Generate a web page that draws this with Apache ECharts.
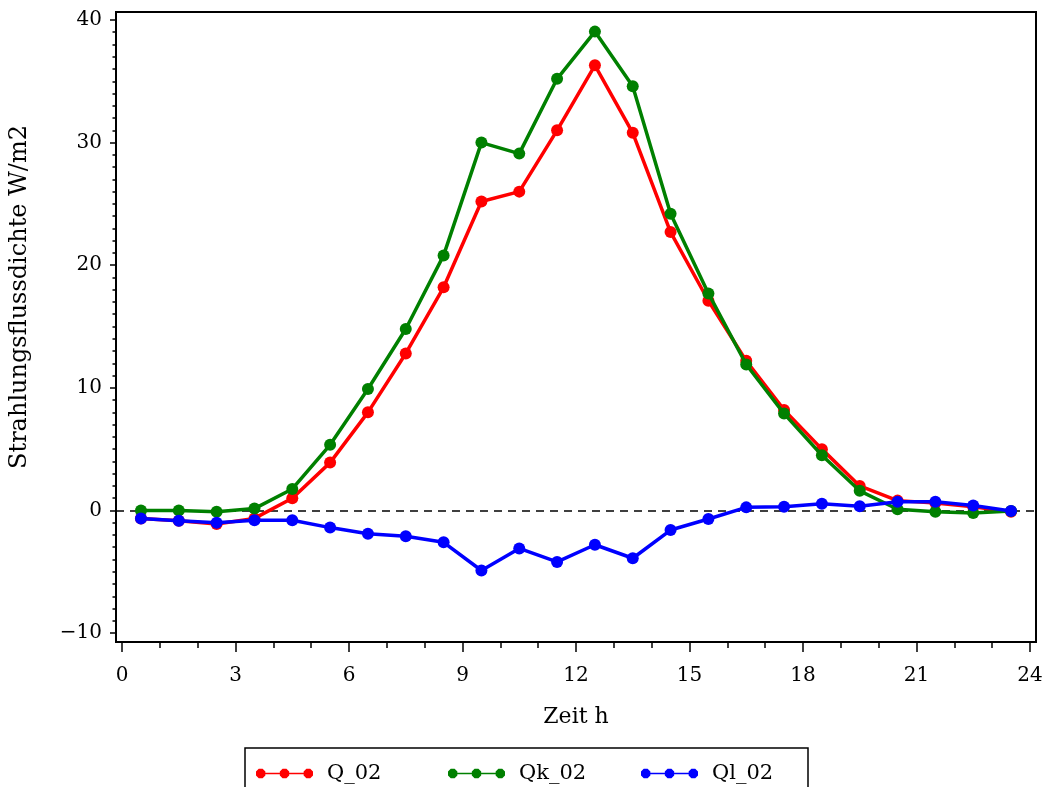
<!DOCTYPE html>
<html>
<head>
<meta charset="utf-8">
<script src="https://cdn.jsdelivr.net/npm/echarts@6/dist/echarts.min.js"></script>
<style>
html,body{margin:0;padding:0;background:#fff;}
#chart{width:1048px;height:787px;}
</style>
</head>
<body>
<div id="chart"></div>
<script>
// ---- data ----
const hours = [0.5,1.5,2.5,3.5,4.5,5.5,6.5,7.5,8.5,9.5,10.5,11.5,12.5,13.5,14.5,15.5,16.5,17.5,18.5,19.5,20.5,21.5,22.5,23.5];
const Q_02  = [-0.65,-0.85,-1.1,-0.65,1.0,3.9,8.0,12.8,18.2,25.2,26.0,31.0,36.3,30.8,22.7,17.1,12.2,8.2,5.0,2.0,0.8,0.6,0.3,-0.1];
const Qk_02 = [0.0,0.0,-0.1,0.15,1.75,5.35,9.9,14.8,20.8,30.0,29.1,35.2,39.05,34.6,24.2,17.7,11.9,7.9,4.5,1.6,0.1,-0.1,-0.2,-0.05];
const Ql_02 = [-0.65,-0.85,-1.0,-0.8,-0.8,-1.4,-1.9,-2.1,-2.6,-4.9,-3.1,-4.2,-2.8,-3.9,-1.6,-0.7,0.25,0.3,0.55,0.35,0.7,0.7,0.4,-0.05];
const seriesNames = ['Q_02','Qk_02','Ql_02'];
const xMajorTicks = [0,3,6,9,12,15,18,21,24];
const xMinorTicks = [0,1,2,3,4,5,6,7,8,9,10,11,12,13,14,15,16,17,18,19,20,21,22,23,24];
const yMajorTicks = [-10,0,10,20,30,40];
const yMinorTicks = [];
for (let v = -10; v <= 40; v++) yMinorTicks.push(v);
const xTitle = 'Zeit h';
const yTitle = 'Strahlungsflussdichte W/m2';

// ---- styling ----
const FONT = 'DejaVu Serif';
const colors = ['#ff0000', '#008000', '#0000ff'];
const legendLefts = [256, 448, 641];

function octagon(cx, cy, r) {
  let s = '';
  for (let k = 0; k < 8; k++) {
    const a = (22.5 + 45 * k) * Math.PI / 180;
    const x = (cx + r * Math.cos(a)).toFixed(2);
    const y = (cy + r * Math.sin(a)).toFixed(2);
    s += (k === 0 ? 'M' : 'L') + x + ',' + y + ' ';
  }
  return s + 'Z ';
}
const legendIcon = 'path://M5,4.2 L52,4.2 L52,5.8 L5,5.8 Z ' + octagon(5,5,5) + octagon(28.5,5,5) + octagon(52,5,5);

const xMin = -0.16, xMax = 24.16;
const yMin = -10.73, yMax = 40.65;

function pairs(arr) { return hours.map((h, i) => [h, arr[i]]); }
const seriesData = [Q_02, Qk_02, Ql_02];

const chart = echarts.init(document.getElementById('chart'), null, {renderer: 'canvas'});
const option = {
  animation: false,
  backgroundColor: '#ffffff',
  grid: {
    left: 116, right: 12, top: 12, bottom: 145,
    show: true, borderColor: '#000', borderWidth: 2, backgroundColor: 'transparent'
  },
  graphic: [{
    type: 'rect', silent: true, z: 0,
    shape: {x: 245, y: 748, width: 563, height: 60},
    style: {fill: 'none', stroke: '#000', lineWidth: 1.5}
  }],
  legend: seriesNames.map((n, i) => ({
    data: [n],
    left: legendLefts[i], top: 748,
    orient: 'horizontal',
    padding: [15, 0, 0, 0],
    itemWidth: 57, itemHeight: 10,
    icon: legendIcon,
    itemStyle: {borderWidth: 0},
    textStyle: {fontFamily: FONT, fontSize: 21, color: '#000', padding: [0, 0, 0, 9]}
  })),
  xAxis: [
    {
      type: 'value', min: xMin, max: xMax, position: 'bottom',
      name: xTitle, nameLocation: 'middle', nameGap: 64,
      nameTextStyle: {fontFamily: FONT, fontSize: 22, color: '#000'},
      axisLine: {show: false, onZero: false},
      splitLine: {show: false},
      axisTick: {show: true, inside: false, length: 10, customValues: xMajorTicks, lineStyle: {color: '#000', width: 1.5}},
      axisLabel: {show: true, margin: 24, customValues: xMajorTicks, fontFamily: FONT, fontSize: 20, color: '#000'}
    },
    {
      type: 'value', min: xMin, max: xMax, position: 'bottom',
      axisLine: {show: false, onZero: false},
      splitLine: {show: false},
      axisTick: {show: true, inside: false, length: 6, customValues: xMinorTicks, lineStyle: {color: '#000', width: 1.5}},
      axisLabel: {show: false}
    }
  ],
  yAxis: [
    {
      type: 'value', min: yMin, max: yMax, position: 'left',
      name: yTitle, nameLocation: 'middle', nameGap: 84, nameRotate: 90,
      nameTextStyle: {fontFamily: FONT, fontSize: 24, color: '#000', padding: [0, 0, 0, 60]},
      axisLine: {show: false, onZero: false},
      splitLine: {show: false},
      axisTick: {show: true, inside: false, length: 6, customValues: yMajorTicks, lineStyle: {color: '#000', width: 1.5}},
      axisLabel: {show: true, margin: 14, customValues: yMajorTicks, fontFamily: FONT, fontSize: 20, color: '#000',
        formatter: v => (v < 0 ? '\u2212' + Math.abs(v) : String(v))}
    },
    {
      type: 'value', min: yMin, max: yMax, position: 'left',
      axisLine: {show: false, onZero: false},
      splitLine: {show: false},
      axisTick: {show: true, inside: false, length: 3.5, customValues: yMinorTicks, lineStyle: {color: '#000', width: 1.5}},
      axisLabel: {show: false}
    }
  ],
  series: seriesNames.map((name, i) => ({
    name: name,
    type: 'line',
    xAxisIndex: 0, yAxisIndex: 0,
    data: pairs(seriesData[i]),
    symbol: 'circle',
    symbolSize: 12,
    showSymbol: true,
    clip: false,
    itemStyle: {color: colors[i], borderWidth: 0},
    lineStyle: {color: colors[i], width: 3.5},
    z: 3 + i,
    markLine: i === 0 ? {
      silent: true,
      symbol: ['none', 'none'],
      label: {show: false},
      lineStyle: {color: '#000', type: [8, 6], width: 1.5},
      data: [{yAxis: 0}],
      z: 1
    } : undefined
  }))
};
chart.setOption(option);
</script>
</body>
</html>
